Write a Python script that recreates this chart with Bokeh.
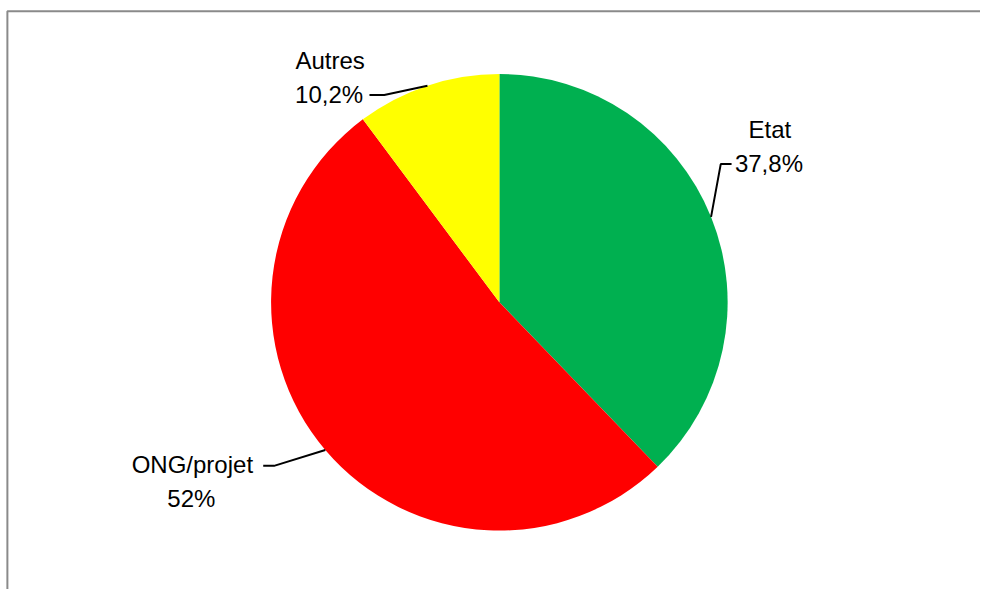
import numpy as np
from bokeh.plotting import figure
from bokeh.models import Range1d, ColumnDataSource
from bokeh.embed import file_html
from bokeh.resources import INLINE
from bokeh.core.properties import value

# ---- data ----
categories = ["Etat", "ONG/projet", "Autres"]
shares = [37.8, 52.0, 10.2]
share_labels = ["37,8%", "52%", "10,2%"]
colors = ["#00B050", "#FF0000", "#FFFF00"]

# ---- layout (reference-image pixels, scaled into the figure) ----
W, H = 980, 589
KX, KY = W / 996, H / 605
def sx(x):
    return x * KX
def sy(y):
    return H - y * KY

center = (507, 310)
R = 232 * KX
# elbow points of the leader lines: [elbow, end]
elbows = [[(732, 168), (743, 168)],
          [(278, 478), (267, 478)],
          [(390, 97), (375, 97)]]
# label anchors: (name line, value line)
label_pos = [[(782, 133), (781, 167)],
             [(195, 477), (194, 512)],
             [(335, 62), (334, 97)]]

p = figure(width=W, height=H, x_range=Range1d(0, W), y_range=Range1d(0, H),
           output_backend="svg", toolbar_location=None, min_border=0)
p.axis.visible = False
p.grid.visible = False
p.outline_line_color = None
p.background_fill_color = "white"
p.border_fill_color = "white"

# chart frame: only left and top edges are visible in the reference
fx, fy = sx(7), sy(11)
p.line([fx, fx, W + 20], [-20, fy, fy], line_color="#8a8a8a", line_width=2)

frac = np.array(shares) / sum(shares)
cum = np.concatenate([[0], np.cumsum(frac)])
start = np.pi / 2 - 2 * np.pi * cum[:-1]
end = np.pi / 2 - 2 * np.pi * cum[1:]
mid = np.pi / 2 - 2 * np.pi * (cum[:-1] + frac / 2)

cx, cy = sx(center[0]), sy(center[1])
src = ColumnDataSource(dict(x=[cx] * 3, y=[cy] * 3, start=start, end=end,
                            color=colors, cat=categories))
p.wedge(x="x", y="y", radius=R, radius_units="screen", start_angle="start",
        end_angle="end", direction="clock", fill_color="color", line_color=None,
        source=src)

for i in range(3):
    x0 = cx + R * np.cos(mid[i])
    y0 = cy + R * np.sin(mid[i])
    xs = [x0] + [sx(e[0]) for e in elbows[i]]
    ys = [y0] + [sy(e[1]) for e in elbows[i]]
    p.line(xs, ys, line_color="black", line_width=2)
    (nx, ny), (vx, vy) = label_pos[i]
    p.text(x=[sx(nx), sx(vx)], y=[sy(ny), sy(vy)], text=[categories[i], share_labels[i]],
           text_font=value("Liberation Sans"), text_font_size="24px",
           text_align="center", text_baseline="alphabetic", text_color="black")

open("out.html", "w").write(file_html(p, INLINE))
